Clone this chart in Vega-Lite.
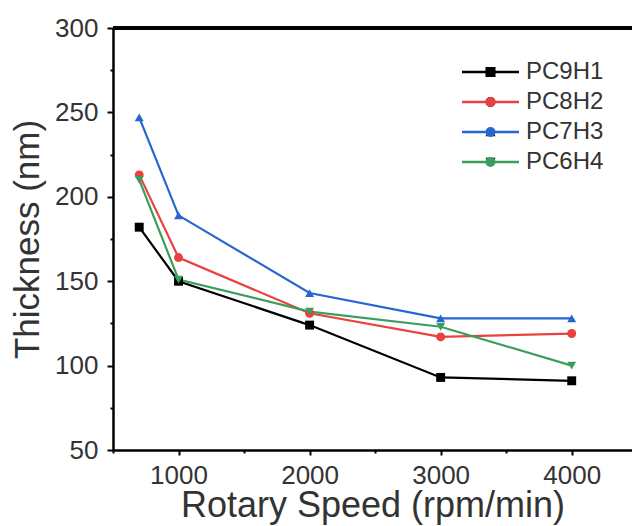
{
  "$schema": "https://vega.github.io/schema/vega-lite/v6.json",
  "width": 519,
  "height": 422,
  "autosize": {"type": "none"},
  "padding": {"left": 113, "top": 28, "right": 0, "bottom": 76},
  "background": "white",
  "config": {"view": {"stroke": null}, "font": "Liberation Sans"},
  "data": {
    "values": [
      {"speed": 700, "thickness": 182, "series": "PC9H1", "sample": "PC9H1"},
      {"speed": 1000, "thickness": 150, "series": "PC9H1", "sample": "PC9H1"},
      {"speed": 2000, "thickness": 124, "series": "PC9H1", "sample": "PC9H1"},
      {"speed": 3000, "thickness": 93, "series": "PC9H1", "sample": "PC9H1"},
      {"speed": 4000, "thickness": 91, "series": "PC9H1", "sample": "PC9H1"},
      {"speed": 700, "thickness": 213, "series": "PC8H2", "sample": "PC8H2"},
      {"speed": 1000, "thickness": 164, "series": "PC8H2", "sample": "PC8H2"},
      {"speed": 2000, "thickness": 131, "series": "PC8H2", "sample": "PC8H2"},
      {"speed": 3000, "thickness": 117, "series": "PC8H2", "sample": "PC8H2"},
      {"speed": 4000, "thickness": 119, "series": "PC8H2", "sample": "PC8H2"},
      {"speed": 700, "thickness": 247, "series": "PC7H3", "sample": "PC7H3"},
      {"speed": 1000, "thickness": 189, "series": "PC7H3", "sample": "PC7H3"},
      {"speed": 2000, "thickness": 143, "series": "PC7H3", "sample": "PC7H3"},
      {"speed": 3000, "thickness": 128, "series": "PC7H3", "sample": "PC7H3"},
      {"speed": 4000, "thickness": 128, "series": "PC7H3", "sample": "PC7H3"},
      {"speed": 700, "thickness": 210, "series": "PC6H4", "sample": "PC6H4"},
      {"speed": 1000, "thickness": 151, "series": "PC6H4", "sample": "PC6H4"},
      {"speed": 2000, "thickness": 132, "series": "PC6H4", "sample": "PC6H4"},
      {"speed": 3000, "thickness": 123, "series": "PC6H4", "sample": "PC6H4"},
      {"speed": 4000, "thickness": 100, "series": "PC6H4", "sample": "PC6H4"}
    ]
  },
  "resolve": {"scale": {"color": "independent"}},
  "encoding": {
    "x": {
      "field": "speed",
      "type": "quantitative",
      "title": "Rotary Speed (rpm/min)",
      "scale": {"domain": [500, 4460], "nice": false, "zero": false},
      "axis": {
        "values": [500, 1000, 1500, 2000, 2500, 3000, 3500, 4000],
        "format": "d",
        "labelExpr": "datum.value % 1000 === 0 ? datum.label : ''",
        "grid": false,
        "domainColor": "black",
        "domainWidth": 2.5,
        "tickColor": "black",
        "tickWidth": 2,
        "tickSize": {"condition": {"test": "datum.value % 1000 === 0", "value": 5}, "value": 3},
        "labelFontSize": 26,
        "labelColor": "#333333",
        "labelPadding": 7,
        "titleFontSize": 36,
        "titleFontWeight": "normal",
        "titleColor": "#333333",
        "titlePadding": 0
      }
    },
    "y": {
      "field": "thickness",
      "type": "quantitative",
      "title": "Thickness (nm)",
      "scale": {"domain": [50, 300], "nice": false, "zero": false},
      "axis": {
        "values": [50, 75, 100, 125, 150, 175, 200, 225, 250, 275, 300],
        "labelExpr": "datum.value % 50 === 0 ? datum.label : ''",
        "grid": false,
        "domainColor": "black",
        "domainWidth": 2.5,
        "tickColor": "black",
        "tickWidth": 2,
        "tickSize": {"condition": {"test": "datum.value % 50 === 0", "value": 6}, "value": 3},
        "labelFontSize": 26,
        "labelColor": "#333333",
        "labelPadding": 9,
        "titleFontSize": 35,
        "titleFontWeight": "normal",
        "titleColor": "#333333",
        "titlePadding": 9
      }
    }
  },
  "layer": [
    {
      "mark": {"type": "rule", "color": "black", "strokeWidth": 2.5},
      "encoding": {"y": {"datum": 300}, "x": null}
    },
    {
      "mark": {"type": "line", "strokeWidth": 2.2},
      "encoding": {
        "color": {
          "field": "series",
          "type": "nominal",
          "scale": {"domain": ["PC9H1", "PC8H2", "PC7H3", "PC6H4"], "range": ["#000000", "#e8413f", "#2566d0", "#3a9e5c"]},
          "legend": {
            "orient": "none",
            "legendX": 365.5,
            "legendY": 32,
            "padding": 0,
            "title": null,
            "labelFontSize": 24,
            "labelColor": "#333333",
            "symbolType": "M-5.7,0H5.7",
            "symbolSize": 100,
            "symbolStrokeWidth": 2.5,
            "rowPadding": 6,
            "labelOffset": 23.5,
            "encode": {
              "symbols": {
                "update": {
                  "strokeWidth": {"value": 2.5},
                  "fill": {"value": "transparent"},
                  "opacity": {"value": 1}
                }
              }
            }
          }
        }
      }
    },
    {
      "mark": {"type": "point", "filled": true, "opacity": 1, "size": 80},
      "encoding": {
        "color": {
          "field": "sample",
          "type": "nominal",
          "sort": "descending",
          "scale": {"range": ["#000000", "#e8413f", "#2566d0", "#3a9e5c"]},
          "legend": {
            "orient": "none",
            "legendX": 365.5,
            "legendY": 32,
            "padding": 0,
            "title": null,
            "labelFontSize": 24,
            "labelExpr": "''",
            "symbolSize": 100,
            "symbolStrokeWidth": 2.5,
            "rowPadding": 6,
            "labelOffset": 28,
            "encode": {
              "symbols": {
                "update": {
                  "size": {"value": 80},
                  "strokeWidth": {"value": 0},
                  "opacity": {"value": 1}
                }
              }
            }
          }
        },
        "shape": {
          "field": "sample",
          "type": "nominal",
          "sort": "descending",
          "scale": {"range": ["square", "circle", "triangle-up", "triangle-down"]},
          "legend": {
            "orient": "none",
            "legendX": 365.5,
            "legendY": 32,
            "padding": 0,
            "title": null,
            "labelFontSize": 24,
            "labelExpr": "''",
            "symbolSize": 100,
            "symbolStrokeWidth": 2.5,
            "rowPadding": 6,
            "labelOffset": 28,
            "encode": {
              "symbols": {
                "update": {
                  "size": {"value": 80},
                  "strokeWidth": {"value": 0},
                  "opacity": {"value": 1}
                }
              }
            }
          }
        }
      }
    }
  ]
}
